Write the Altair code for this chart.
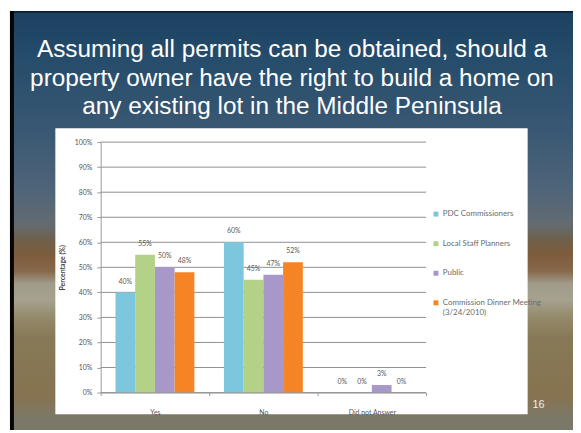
import altair as alt
import pandas as pd

# ---------------- data ----------------
categories = ["Yes", "No", "Did not Answer"]
series = [
    "PDC Commissioners",
    "Local Staff Planners",
    "Public",
    "Commission Dinner Meeting (3/24/2010)",
]
pdc_commissioners = [40, 60, 0]
local_staff_planners = [55, 45, 0]
public = [50, 47, 3]
commission_dinner = [48, 52, 0]
y_ticks = [0, 10, 20, 30, 40, 50, 60, 70, 80, 90, 100]
title_lines = [
    "Assuming all permits can be obtained, should a",
    "property owner have the right to build a home on",
    "any existing lot in the Middle Peninsula",
]
page_number = "16"

colors = ["#7cc7de", "#b3d287", "#a898c9", "#f68425"]

rows = []
for s, vals in zip(series, [pdc_commissioners, local_staff_planners, public, commission_dinner]):
    for c, v in zip(categories, vals):
        rows.append({"category": c, "series": s, "value": v, "label": f"{v}%"})
df = pd.DataFrame(rows)
grid_df = pd.DataFrame({"value": y_ticks})
one = pd.DataFrame({"k": [0]})

# ---------------- layout ----------------
W, H = 330, 254
PAD_L, PAD_T, PAD_R, PAD_B = 94, 133, 149, 38

yscale = alt.Scale(domain=[0, 100], nice=False)

gradient = alt.LinearGradient(
    gradient="linear", x1=0, x2=0, y1=0, y2=1,
    stops=[
        alt.GradientStop(offset=0.0, color="#1b4060"),
        alt.GradientStop(offset=0.12, color="#264d6c"),
        alt.GradientStop(offset=0.29, color="#3a5873"),
        alt.GradientStop(offset=0.43, color="#4f6579"),
        alt.GradientStop(offset=0.51, color="#646b70"),
        alt.GradientStop(offset=0.545, color="#6e604c"),
        alt.GradientStop(offset=0.58, color="#7d5c3c"),
        alt.GradientStop(offset=0.62, color="#86684a"),
        alt.GradientStop(offset=0.65, color="#a09a8a"),
        alt.GradientStop(offset=0.69, color="#a6a28f"),
        alt.GradientStop(offset=0.73, color="#948a6c"),
        alt.GradientStop(offset=0.78, color="#877957"),
        alt.GradientStop(offset=0.92, color="#86734f"),
        alt.GradientStop(offset=0.965, color="#7d7866"),
        alt.GradientStop(offset=1.0, color="#7a7868"),
    ],
)

bg = alt.Chart(one).mark_rect(color=gradient).encode(
    x=alt.value(-92), x2=alt.value(W + PAD_R),
    y=alt.value(-PAD_T), y2=alt.value(H + PAD_B),
)
top_border = alt.Chart(one).mark_rect(color="#0b1a2a").encode(
    x=alt.value(-92), x2=alt.value(W + PAD_R),
    y=alt.value(-PAD_T), y2=alt.value(-PAD_T + 1.5),
)
left_border = alt.Chart(one).mark_rect(color="#050505").encode(
    x=alt.value(-92), x2=alt.value(-88),
    y=alt.value(-PAD_T), y2=alt.value(H + PAD_B),
)
white_box = alt.Chart(one).mark_rect(color="white").encode(
    x=alt.value(-46), x2=alt.value(433),
    y=alt.value(-14), y2=alt.value(276),
)

y_axis = alt.Axis(
    values=y_ticks, labelExpr="datum.value + '%'", grid=False,
    domainColor="#9a9a9a", tickColor="#9a9a9a", tickSize=4,
    labelFont="Lato", labelFontSize=7, labelColor="#555555", labelPadding=5,
    title="Percentage (%)", titleFont="Lato", titleFontSize=7,
    titleFontWeight="bold", titleColor="#444444", titlePadding=9, zindex=1,
)
yenc = alt.Y("value:Q", scale=yscale, axis=y_axis, title="Percentage (%)")

gridlines = alt.Chart(grid_df).mark_rule(color="#8e8e8e", strokeWidth=1).encode(
    y=yenc, x=alt.value(0), x2=alt.value(W),
)

xenc = alt.X(
    "category:N", sort=categories,
    scale=alt.Scale(paddingInner=0, paddingOuter=0),
    axis=alt.Axis(
        title=None, labelAngle=0, tickBand="extent", tickSize=3,
        domainColor="#9a9a9a", tickColor="#9a9a9a",
        labelFont="Lato", labelFontSize=7, labelColor="#555555",
        labelPadding=13, zindex=1,
    ),
)
xoff = alt.XOffset(
    "series:N", sort=series,
    scale=alt.Scale(paddingInner=0, paddingOuter=0.75),
)

bars = alt.Chart(df).mark_bar().encode(
    x=xenc, xOffset=xoff, y=yenc,
    color=alt.Color(
        "series:N", sort=series,
        scale=alt.Scale(domain=series, range=colors),
        legend=alt.Legend(
            orient="none", legendX=336, legendY=69, title=None,
            symbolType="square", symbolSize=25, symbolStrokeWidth=0,
            labelFont="Lato", labelFontSize=8, labelColor="#6b6b6b",
            rowPadding=22, labelLimit=200, padding=0, labelOffset=3,
            labelExpr="datum.label == 'Commission Dinner Meeting (3/24/2010)' ? ['Commission Dinner Meeting', '(3/24/2010)'] : datum.label",
        ),
    ),
)

labels = alt.Chart(df).mark_text(
    dy=-11, baseline="middle", font="Lato", fontSize=7, color="#595959"
).encode(x=xenc, xOffset=xoff, y=yenc, text="label:N")

title = alt.Chart(one).mark_text(
    text=title_lines, font="Liberation Sans", fontSize=24.7, lineHeight=29,
    color="white", align="center", baseline="alphabetic",
).encode(x=alt.value(194), y=alt.value(-86))

page = alt.Chart(one).mark_text(
    text=page_number, font="Liberation Sans", fontSize=11,
    color="#eeeeee", align="left", baseline="middle",
).encode(x=alt.value(438), y=alt.value(267))

chart = alt.layer(
    bg, top_border, left_border, title, white_box, gridlines, bars, labels, page
).properties(
    width=W, height=H,
    autosize=alt.AutoSizeParams(type="none"),
    padding={"left": PAD_L, "top": PAD_T, "right": PAD_R, "bottom": PAD_B},
).configure_view(stroke=None)

chart.save("out.html", embed_options={"renderer": "svg", "actions": False})
